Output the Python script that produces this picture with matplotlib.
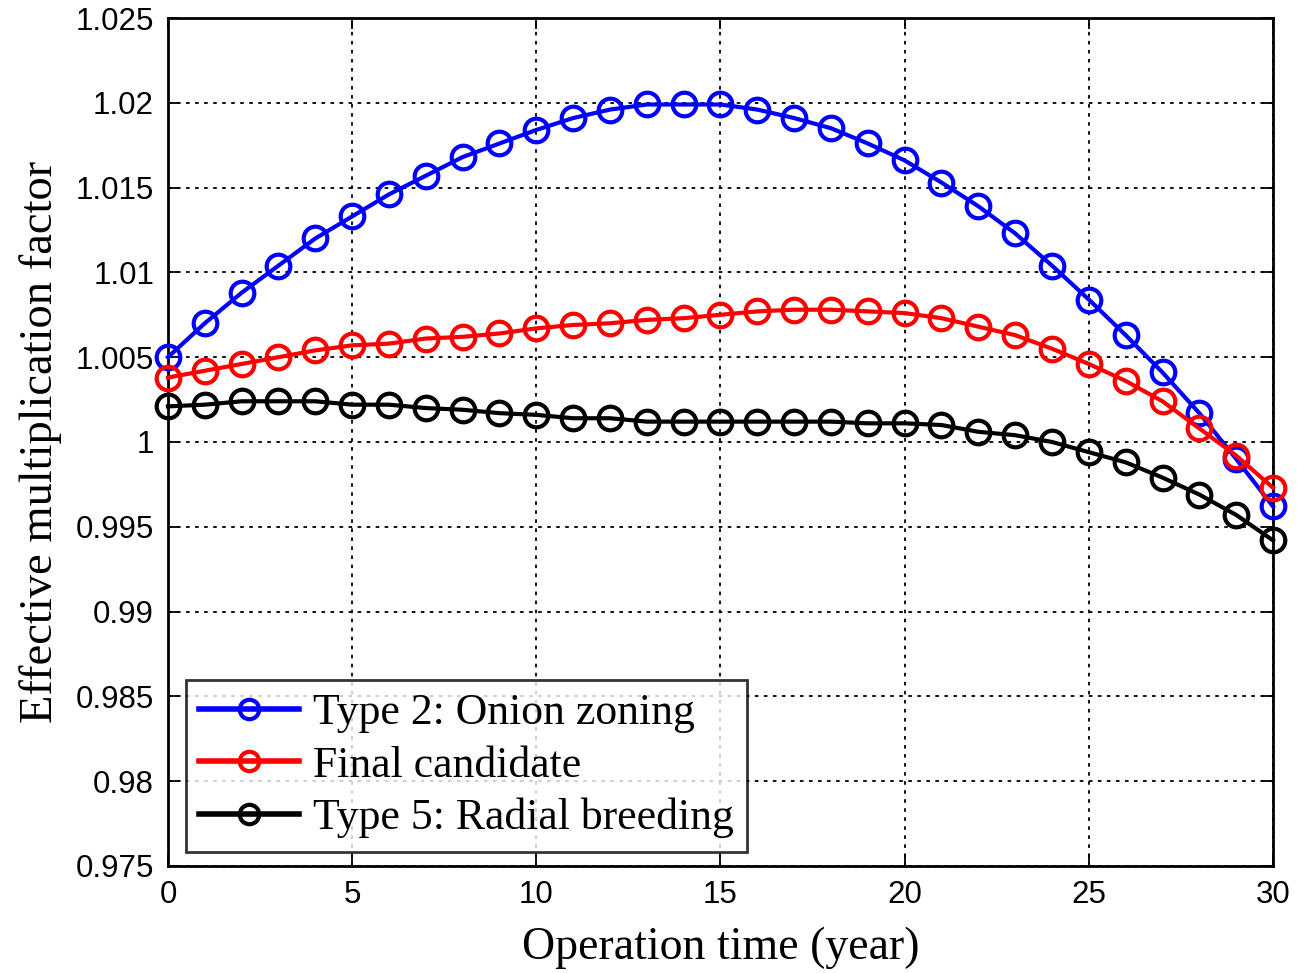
import numpy as np
import matplotlib.pyplot as plt

years = np.arange(0, 31)

# k-eff over operation time for each core design
keff_onion = [1.0050, 1.0070, 1.0088, 1.0104, 1.0120, 1.0133, 1.0146, 1.0157,
              1.0168, 1.0176, 1.0184, 1.0191, 1.0196, 1.0199, 1.0199, 1.0199,
              1.0196, 1.0191, 1.0185, 1.0176, 1.0166, 1.0153, 1.0139, 1.0123,
              1.0104, 1.0084, 1.0063, 1.0041, 1.0017, 0.9990, 0.9962]
keff_final = [1.0038, 1.0042, 1.0046, 1.0050, 1.0054, 1.0057, 1.0058, 1.0061,
              1.0062, 1.0064, 1.0067, 1.0069, 1.0070, 1.0072, 1.0073, 1.0075,
              1.0077, 1.0078, 1.0078, 1.0077, 1.0076, 1.0073, 1.0068, 1.0063,
              1.0055, 1.0046, 1.0036, 1.0024, 1.0008, 0.9992, 0.9973]
keff_radial = [1.0021, 1.0022, 1.0024, 1.0024, 1.0024, 1.0022, 1.0022, 1.0020,
               1.0019, 1.0017, 1.0016, 1.0014, 1.0014, 1.0012, 1.0012, 1.0012,
               1.0012, 1.0012, 1.0012, 1.0011, 1.0011, 1.0010, 1.0006, 1.0004,
               1.0000, 0.9994, 0.9988, 0.9979, 0.9969, 0.9957, 0.9942]

labels = ['Type 2: Onion zoning', 'Final candidate', 'Type 5: Radial breeding']
colors = ['#0000ff', '#ff0000', '#000000']
yticks = [0.975, 0.98, 0.985, 0.99, 0.995, 1.0, 1.005, 1.01, 1.015, 1.02, 1.025]
ytick_labels = ['0.975', '0.98', '0.985', '0.99', '0.995', '1', '1.005',
                '1.01', '1.015', '1.02', '1.025']

fig = plt.figure(figsize=(12.97, 9.73), dpi=100)
ax = fig.add_axes([0.1295, 0.110, 0.852, 0.8715])

for vals, lab, c in zip([keff_onion, keff_final, keff_radial], labels, colors):
    ax.plot(years, vals, '-o', color=c, lw=3, ms=17, mfc='none',
            mec=c, mew=3, label=lab, clip_on=False, zorder=3)

ax.set_xlim(0, 30)
ax.set_ylim(0.975, 1.025)
ax.set_xticks([0, 5, 10, 15, 20, 25, 30])
ax.set_yticks(yticks)
ax.set_yticklabels(ytick_labels)
ax.grid(True, color='black', linestyle=(0, (2, 3)), linewidth=1.3)
ax.tick_params(direction='in', length=8, width=1.3, top=True, right=True,
               labelsize=22.5, pad=10)
for lbl in ax.get_xticklabels() + ax.get_yticklabels():
    lbl.set_family('Liberation Sans')
for sp in ax.spines.values():
    sp.set_linewidth(2)

ax.set_xlabel('Operation time (year)', family='Liberation Serif', fontsize=33,
              labelpad=12)
ax.set_ylabel('Effective multiplication factor', family='Liberation Serif',
              fontsize=33.5, labelpad=10)

leg = ax.legend(loc='lower left', bbox_to_anchor=(0.016, 0.017),
                prop={'family': 'Liberation Serif', 'size': 31.5},
                frameon=True, fancybox=False, edgecolor='black',
                handlelength=2.3, handletextpad=0.3, borderpad=0.3,
                labelspacing=0.28, borderaxespad=0)
leg.get_frame().set_linewidth(2)
for h in leg.legend_handles:
    h.set_markersize(14)
    h.set_linewidth(4)

fig.savefig('out.png', dpi=100)
